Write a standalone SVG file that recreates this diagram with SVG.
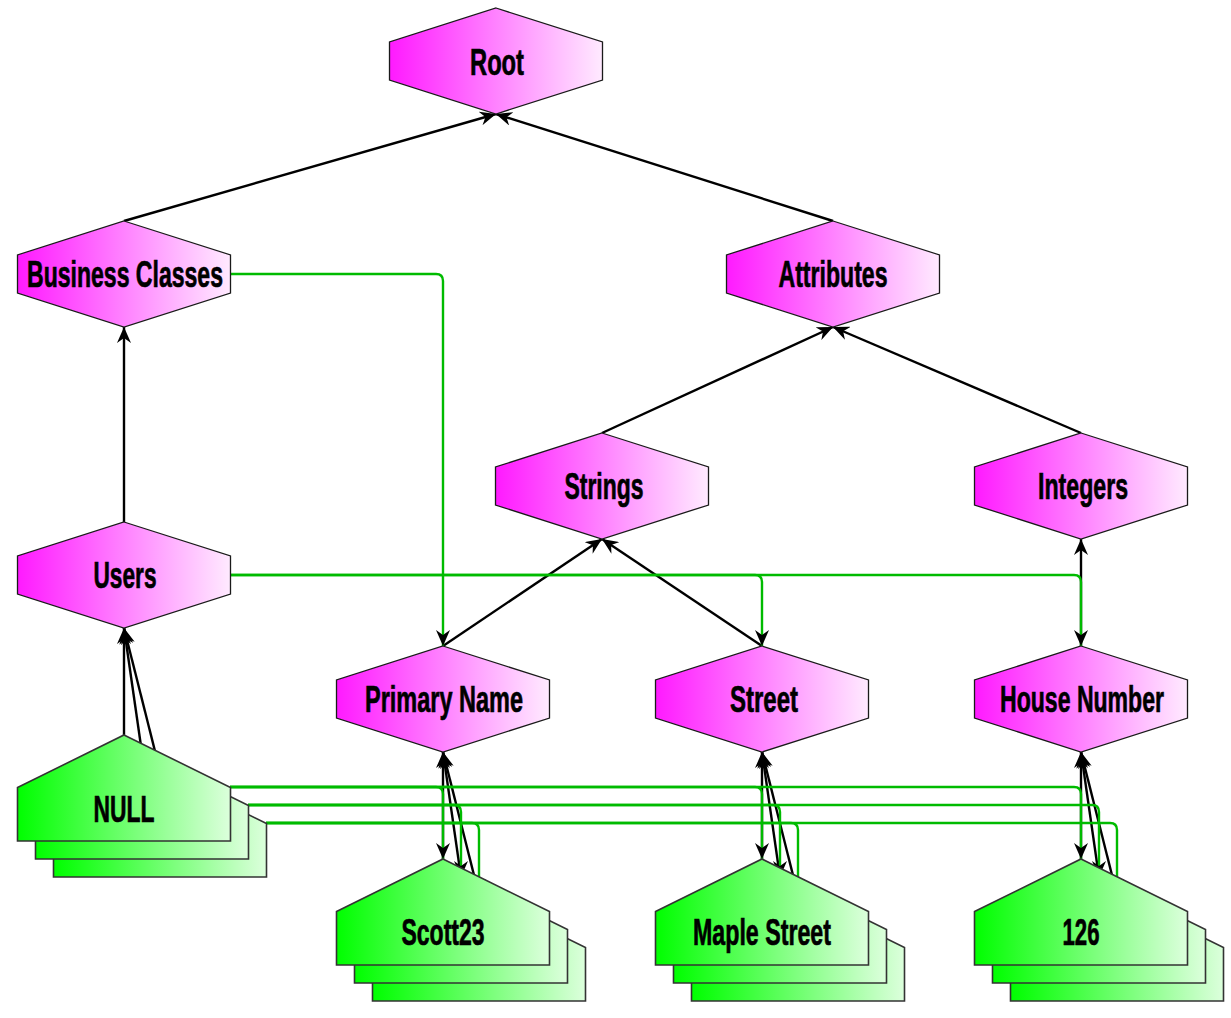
<svg xmlns="http://www.w3.org/2000/svg" xmlns:xlink="http://www.w3.org/1999/xlink" width="1231" height="1018" viewBox="0 0 1231 1018">
<style>
.hex{fill:url(#mag);stroke:#1a1a1a;stroke-width:1.3}
.house{fill:url(#grn);stroke:#333;stroke-width:1.6}
.lbl{font-family:"Liberation Sans",Arial,sans-serif;font-weight:bold;font-size:37px;fill:#000;stroke:#000;stroke-width:0.7;text-anchor:middle}
.blk{fill:none;stroke:#000;stroke-width:2.4;marker-end:url(#arr)}
.grn{fill:none;stroke:#00bb00;stroke-width:2.4;marker-end:url(#arr)}
</style>
<defs>
<linearGradient id="mag" x1="0" y1="0" x2="1" y2="0">
<stop offset="0" stop-color="#ff1aff"/>
<stop offset="1" stop-color="#ffeaff"/>
</linearGradient>
<linearGradient id="grn" x1="0" y1="0" x2="1" y2="0">
<stop offset="0" stop-color="#00ff00"/>
<stop offset="1" stop-color="#dcffdc"/>
</linearGradient>
<marker id="arr" markerUnits="userSpaceOnUse" viewBox="0 0 16 14" markerWidth="16" markerHeight="14" refX="16" refY="7" orient="auto">
<path d="M16,7 L0,0 L5,7 L0,14 Z" fill="#000"/>
</marker>
<polygon id="hexshape" points="0,0 106.5,34 106.5,72 0,106 -106.5,72 -106.5,34"/>
<polygon id="houseshape" points="0,0 106.5,52.5 106.5,106 -106.5,106 -106.5,52.5"/>
</defs>

<g id="connectors">
<path class="blk" d="M124,221 L496,114"/>
<path class="blk" d="M833,221 L496,114"/>
<path class="blk" d="M124,522 L124,327"/>
<path class="blk" d="M602,433 L833,327"/>
<path class="blk" d="M1081,433 L833,327"/>
<path class="blk" d="M443,646 L602,539"/>
<path class="blk" d="M762,646 L602,539"/>
<path class="blk" d="M1081,646 L1081,539"/>
<path class="blk" d="M160,771 L124,628"/>
<path class="blk" d="M142,753 L124,628"/>
<path class="blk" d="M124,735 L124,628"/>
<path class="blk" d="M479,895 L443,752"/>
<path class="blk" d="M461,877 L443,752"/>
<path class="blk" d="M443,859 L443,752"/>
<path class="blk" d="M798,895 L762,752"/>
<path class="blk" d="M780,877 L762,752"/>
<path class="blk" d="M762,859 L762,752"/>
<path class="blk" d="M1117,895 L1081,752"/>
<path class="blk" d="M1099,877 L1081,752"/>
<path class="blk" d="M1081,859 L1081,752"/>
<path class="grn" d="M230,274 H436 Q443,274 443,281 V646"/>
<path class="grn" d="M230,575 H755 Q762,575 762,582 V646"/>
<path class="grn" d="M230,575 H1074 Q1081,575 1081,582 V646"/>
<path class="grn" d="M266,823 H472 Q479,823 479,830 V895"/>
<path class="grn" d="M266,823 H791 Q798,823 798,830 V895"/>
<path class="grn" d="M266,823 H1110 Q1117,823 1117,830 V895"/>
<path class="grn" d="M248,805 H454 Q461,805 461,812 V877"/>
<path class="grn" d="M248,805 H773 Q780,805 780,812 V877"/>
<path class="grn" d="M248,805 H1092 Q1099,805 1099,812 V877"/>
<path class="grn" d="M230,787 H436 Q443,787 443,794 V859"/>
<path class="grn" d="M230,787 H755 Q762,787 762,794 V859"/>
<path class="grn" d="M230,787 H1074 Q1081,787 1081,794 V859"/>
</g>

<g id="root">
<use href="#hexshape" x="496" y="8" class="hex"/>
<text class="lbl" x="497" y="75" textLength="54" lengthAdjust="spacingAndGlyphs">Root</text>
</g>
<g id="business-classes">
<use href="#hexshape" x="124" y="221" class="hex"/>
<text class="lbl" x="125" y="287" textLength="196" lengthAdjust="spacingAndGlyphs">Business Classes</text>
</g>
<g id="attributes">
<use href="#hexshape" x="833" y="221" class="hex"/>
<text class="lbl" x="833" y="287" textLength="109" lengthAdjust="spacingAndGlyphs">Attributes</text>
</g>
<g id="strings">
<use href="#hexshape" x="602" y="433" class="hex"/>
<text class="lbl" x="604" y="499" textLength="79" lengthAdjust="spacingAndGlyphs">Strings</text>
</g>
<g id="integers">
<use href="#hexshape" x="1081" y="433" class="hex"/>
<text class="lbl" x="1083" y="499" textLength="90" lengthAdjust="spacingAndGlyphs">Integers</text>
</g>
<g id="users">
<use href="#hexshape" x="124" y="522" class="hex"/>
<text class="lbl" x="125" y="588" textLength="63" lengthAdjust="spacingAndGlyphs">Users</text>
</g>
<g id="primary-name">
<use href="#hexshape" x="443" y="646" class="hex"/>
<text class="lbl" x="444" y="712" textLength="158" lengthAdjust="spacingAndGlyphs">Primary Name</text>
</g>
<g id="street">
<use href="#hexshape" x="762" y="646" class="hex"/>
<text class="lbl" x="764" y="712" textLength="68" lengthAdjust="spacingAndGlyphs">Street</text>
</g>
<g id="house-number">
<use href="#hexshape" x="1081" y="646" class="hex"/>
<text class="lbl" x="1082" y="712" textLength="164" lengthAdjust="spacingAndGlyphs">House Number</text>
</g>

<g id="null">
<use href="#houseshape" x="160" y="771" class="house"/>
<use href="#houseshape" x="142" y="753" class="house"/>
<use href="#houseshape" x="124" y="735" class="house"/>
<text class="lbl" x="124" y="822" textLength="61" lengthAdjust="spacingAndGlyphs">NULL</text>
</g>
<g id="scott23">
<use href="#houseshape" x="479" y="895" class="house"/>
<use href="#houseshape" x="461" y="877" class="house"/>
<use href="#houseshape" x="443" y="859" class="house"/>
<text class="lbl" x="443" y="945" textLength="83" lengthAdjust="spacingAndGlyphs">Scott23</text>
</g>
<g id="maple-street">
<use href="#houseshape" x="798" y="895" class="house"/>
<use href="#houseshape" x="780" y="877" class="house"/>
<use href="#houseshape" x="762" y="859" class="house"/>
<text class="lbl" x="762" y="945" textLength="138" lengthAdjust="spacingAndGlyphs">Maple Street</text>
</g>
<g id="v126">
<use href="#houseshape" x="1117" y="895" class="house"/>
<use href="#houseshape" x="1099" y="877" class="house"/>
<use href="#houseshape" x="1081" y="859" class="house"/>
<text class="lbl" x="1081" y="945" textLength="37" lengthAdjust="spacingAndGlyphs">126</text>
</g>
</svg>
